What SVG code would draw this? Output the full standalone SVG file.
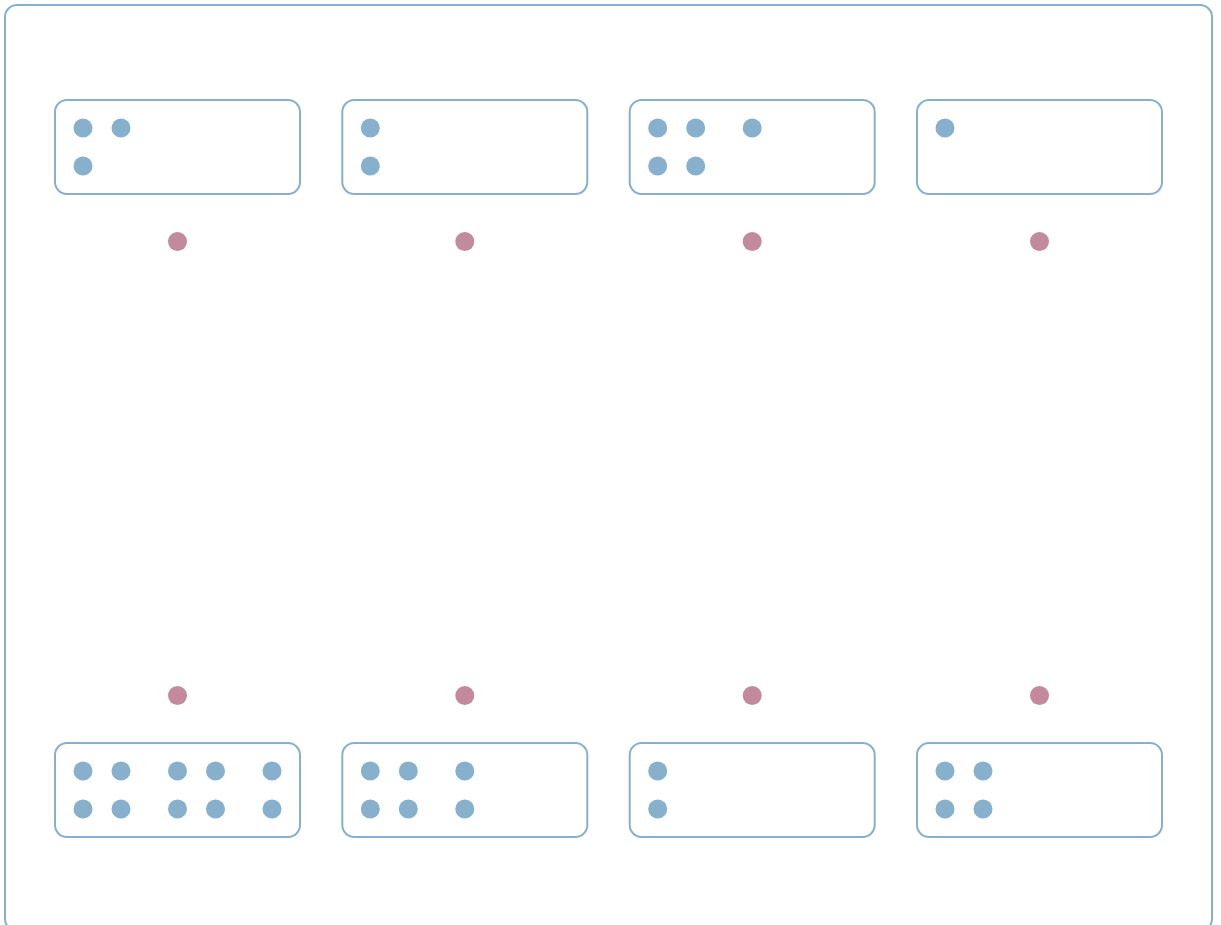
<svg xmlns="http://www.w3.org/2000/svg" width="1221" height="925" viewBox="0 0 1221 925">
<style>
.frame{fill:#fff;stroke:#86b0cc;stroke-width:2}
.box{fill:#fff;stroke:#86b0cc;stroke-width:2}
.d{fill:#86b0cc}
.p{fill:#c28a9c}
</style>
<rect class="frame" x="5" y="5" width="1207" height="926" rx="12"/>
<g id="connectors"></g>
<g id="top1"><rect class="box" x="55" y="100" width="245" height="94" rx="12"/><circle class="d" cx="83" cy="128" r="9.5"/><circle class="d" cx="121" cy="128" r="9.5"/><circle class="d" cx="83" cy="166" r="9.5"/></g>
<g id="top2"><rect class="box" x="342.3" y="100" width="245" height="94" rx="12"/><circle class="d" cx="370.3" cy="128" r="9.5"/><circle class="d" cx="370.3" cy="166" r="9.5"/></g>
<g id="top3"><rect class="box" x="629.7" y="100" width="245" height="94" rx="12"/><circle class="d" cx="657.7" cy="128" r="9.5"/><circle class="d" cx="695.7" cy="128" r="9.5"/><circle class="d" cx="752.2" cy="128" r="9.5"/><circle class="d" cx="657.7" cy="166" r="9.5"/><circle class="d" cx="695.7" cy="166" r="9.5"/></g>
<g id="top4"><rect class="box" x="917" y="100" width="245" height="94" rx="12"/><circle class="d" cx="945" cy="128" r="9.5"/></g>
<g id="pt1"><circle class="p" cx="177.5" cy="241.5" r="9.5"/></g>
<g id="pt2"><circle class="p" cx="464.8" cy="241.5" r="9.5"/></g>
<g id="pt3"><circle class="p" cx="752.2" cy="241.5" r="9.5"/></g>
<g id="pt4"><circle class="p" cx="1039.5" cy="241.5" r="9.5"/></g>
<g id="pb1"><circle class="p" cx="177.5" cy="695.5" r="9.5"/></g>
<g id="pb2"><circle class="p" cx="464.8" cy="695.5" r="9.5"/></g>
<g id="pb3"><circle class="p" cx="752.2" cy="695.5" r="9.5"/></g>
<g id="pb4"><circle class="p" cx="1039.5" cy="695.5" r="9.5"/></g>
<g id="bot1"><rect class="box" x="55" y="743" width="245" height="94" rx="12"/><circle class="d" cx="83" cy="771" r="9.5"/><circle class="d" cx="121" cy="771" r="9.5"/><circle class="d" cx="177.5" cy="771" r="9.5"/><circle class="d" cx="215.5" cy="771" r="9.5"/><circle class="d" cx="272" cy="771" r="9.5"/><circle class="d" cx="83" cy="809" r="9.5"/><circle class="d" cx="121" cy="809" r="9.5"/><circle class="d" cx="177.5" cy="809" r="9.5"/><circle class="d" cx="215.5" cy="809" r="9.5"/><circle class="d" cx="272" cy="809" r="9.5"/></g>
<g id="bot2"><rect class="box" x="342.3" y="743" width="245" height="94" rx="12"/><circle class="d" cx="370.3" cy="771" r="9.5"/><circle class="d" cx="408.3" cy="771" r="9.5"/><circle class="d" cx="464.8" cy="771" r="9.5"/><circle class="d" cx="370.3" cy="809" r="9.5"/><circle class="d" cx="408.3" cy="809" r="9.5"/><circle class="d" cx="464.8" cy="809" r="9.5"/></g>
<g id="bot3"><rect class="box" x="629.7" y="743" width="245" height="94" rx="12"/><circle class="d" cx="657.7" cy="771" r="9.5"/><circle class="d" cx="657.7" cy="809" r="9.5"/></g>
<g id="bot4"><rect class="box" x="917" y="743" width="245" height="94" rx="12"/><circle class="d" cx="945" cy="771" r="9.5"/><circle class="d" cx="983" cy="771" r="9.5"/><circle class="d" cx="945" cy="809" r="9.5"/><circle class="d" cx="983" cy="809" r="9.5"/></g>
</svg>
